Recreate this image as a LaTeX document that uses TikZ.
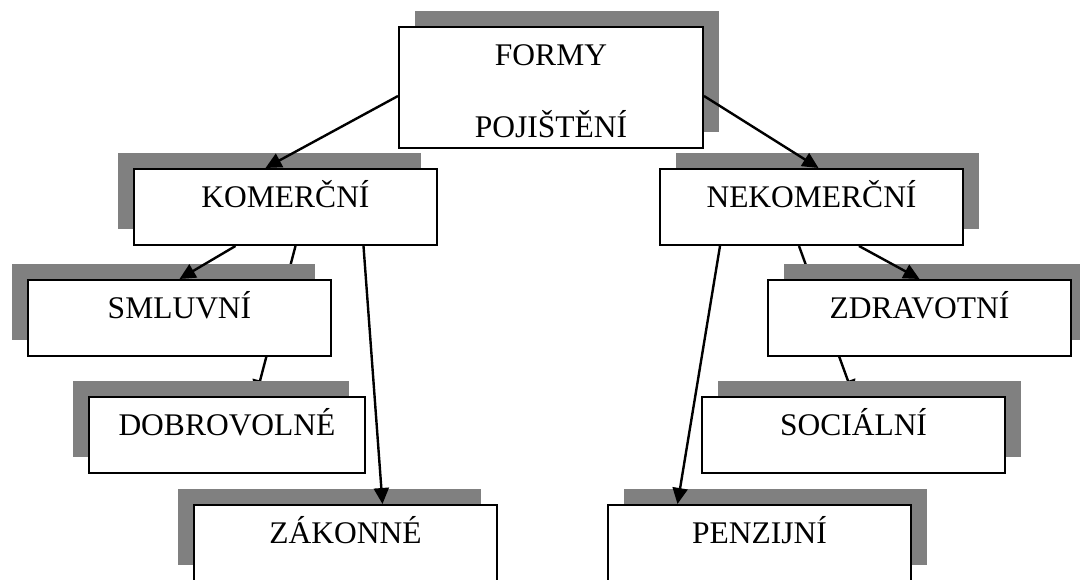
\documentclass[tikz,border=0pt]{standalone}
\usepackage{fontspec}
\setmainfont{Liberation Serif}
\usetikzlibrary{arrows.meta,backgrounds,shadows}
\newcommand{\boxFont}{\fontsize{31.5pt}{72pt}\selectfont}
\newcommand{\boxWidth}{303pt}

\begin{document}
\begin{tikzpicture}[x=1pt, y=1pt,
  box/.style={draw, line width=2pt, fill=white, anchor=north west, font=\boxFont,
    inner xsep=0pt, inner ysep=0pt, minimum width=\boxWidth, text height=39pt, text depth=37pt},
  lbox/.style={box, general shadow={fill=gray, shadow xshift=-16pt, shadow yshift=16pt}},
  rbox/.style={box, general shadow={fill=gray, shadow xshift=16pt, shadow yshift=16pt}},
  link/.style={line width=2.4pt, -{Triangle[length=16pt, width=15pt]}}]
\useasboundingbox (0,0) rectangle (1080,579);

% top
\node[rbox, minimum width=304pt, text height=111pt, text depth=10pt, align=center] (formy) at (398,553) {FORMY\\POJIŠTĚNÍ};

% left branch
\node[lbox] (kom) at (133,411) {KOMERČNÍ};
\node[lbox] (sml) at (27,300) {SMLUVNÍ};
\node[lbox, minimum width=276pt] (dob) at (88,183) {DOBROVOLNÉ};
\node[lbox] (zak) at (193,75) {ZÁKONNÉ};

% right branch
\node[rbox] (nek) at (659,411) {NEKOMERČNÍ};
\node[rbox] (zdr) at (767,300) {ZDRAVOTNÍ};
\node[rbox] (soc) at (701,183) {SOCIÁLNÍ};
\node[rbox] (pen) at (607,75) {PENZIJNÍ};

\draw[link] ([yshift=-8.5pt]formy.west) -- ([xshift=-20pt]kom.north);
\draw[link] ([yshift=-8.5pt]formy.east) -- ([xshift=7pt]nek.north);
\draw[link] ([xshift=-50pt]kom.south) -- (sml.north);
\draw[link] ([xshift=78pt]kom.south) -- ([xshift=37pt]zak.north);
\draw[link] ([xshift=47.5pt]nek.south) -- (zdr.north);
\draw[link] ([xshift=-91.5pt]nek.south) -- ([xshift=-82pt]pen.north);

% these two run behind the boxes
\begin{scope}[on background layer]
  \draw[link] ([xshift=10pt]kom.south) -- ([xshift=29pt]dob.north);
  \draw[link] ([xshift=-12.5pt]nek.south) -- (soc.north);
\end{scope}

\end{tikzpicture}
\end{document}
